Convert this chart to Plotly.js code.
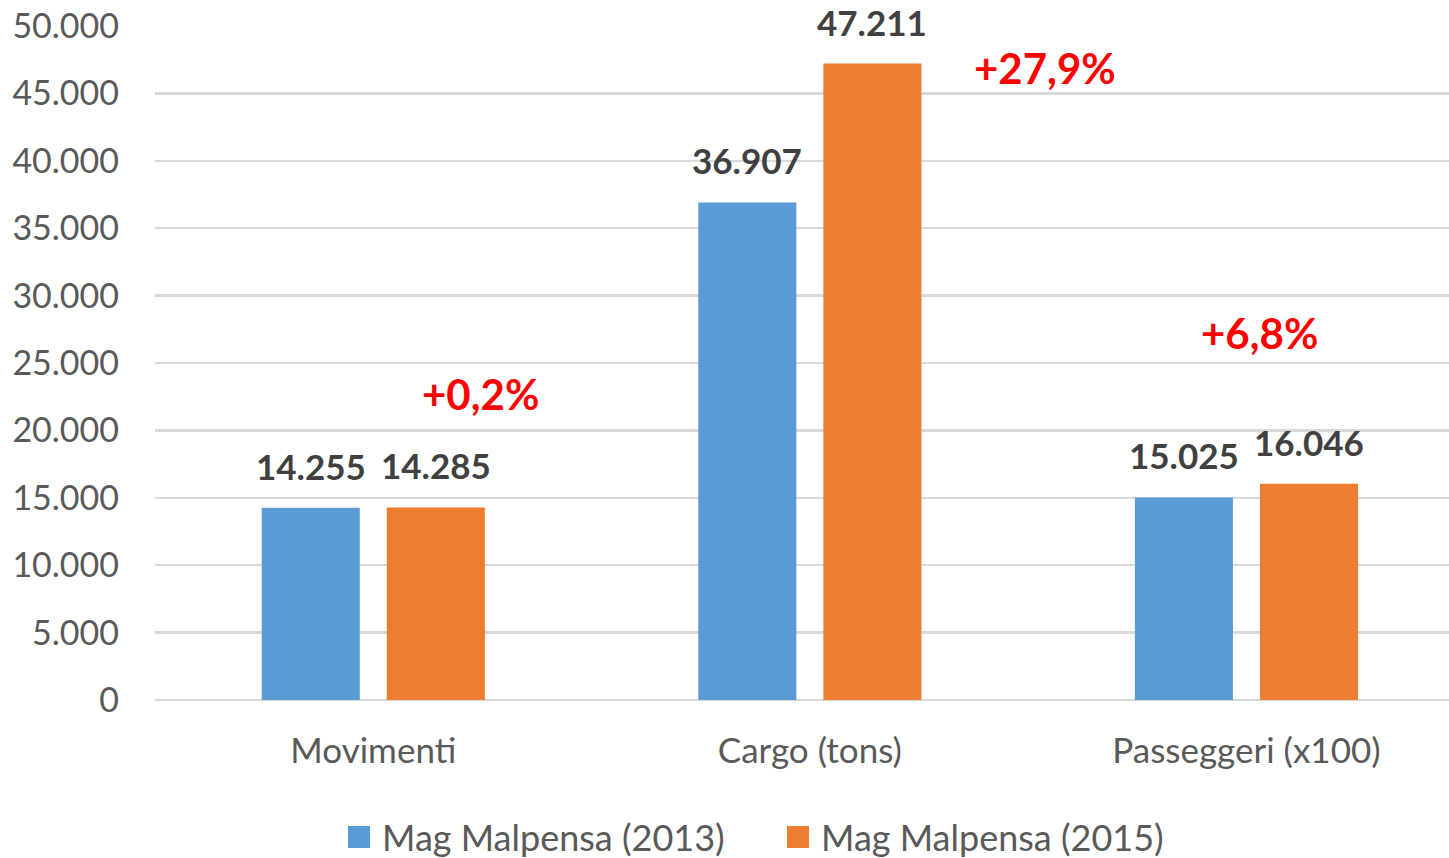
<!DOCTYPE html>
<html>
<head>
<meta charset="utf-8">
<script src="https://cdn.plot.ly/plotly-3.0.1.min.js"></script>
<style>html,body{margin:0;padding:0;background:#fff;}#chart{width:1449px;height:858px;}</style>
</head>
<body>
<div id="chart"></div>
<script>
const categories = ["Movimenti", "Cargo (tons)", "Passeggeri (x100)"];
const series2013 = [14255, 36907, 15025];
const series2015 = [14285, 47211, 16046];
const seriesNames = ["Mag Malpensa (2013)", "Mag Malpensa (2015)"];
const seriesColors = ["#5B9BD5", "#ED7D31"];
const changeLabels = ["+0,2%", "+27,9%", "+6,8%"];
const changeX = [0.245, 1.538, 2.03];
const changeY = [22700, 46880, 27230];
const yTicks = [0, 5000, 10000, 15000, 20000, 25000, 30000, 35000, 40000, 45000, 50000];

const FONT = "Lato, 'Open Sans', sans-serif";
const xIdx = categories.map((_, i) => i);
const fmt = v => v.toLocaleString("de-DE");

const traces = [series2013, series2015].map((vals, s) => ({
  type: "bar", name: seriesNames[s], x: xIdx, y: vals,
  marker: {color: seriesColors[s]}, showlegend: false, hoverinfo: "none"
}));

const annotations = [];
// value labels above bars
[series2013, series2015].forEach((vals, s) => {
  vals.forEach((v, i) => annotations.push({
    x: i, y: v, xref: "x", yref: "y", xshift: s === 0 ? -62.5 : 62.5, yshift: 42,
    yanchor: "middle", text: "<b>" + fmt(v) + "</b>", showarrow: false,
    font: {family: FONT, size: 35, color: "#404040"}
  }));
});
// change labels
changeLabels.forEach((t, i) => annotations.push({
  x: changeX[i], y: changeY[i], xref: "x", yref: "y", text: "<b>" + t + "</b>",
  showarrow: false, font: {family: FONT, size: 42, color: "#FF0000"}
}));
// manual legend
const legSq = [[0.14915, 0.16615], [0.48841, 0.50541]];
const legTx = [0.17388, 0.51314];
const shapes = [];
seriesNames.forEach((n, s) => {
  shapes.push({type: "rect", xref: "paper", yref: "paper", x0: legSq[s][0], x1: legSq[s][1],
    y0: -0.21958, y1: -0.18694, fillcolor: seriesColors[s], line: {width: 0}});
  annotations.push({x: legTx[s], y: -0.2033, xref: "paper", yref: "paper", xanchor: "left",
    yanchor: "middle", text: n, showarrow: false, font: {family: FONT, size: 36, color: "#595959"}});
});

const layout = {
  width: 1449, height: 858,
  margin: {l: 155, r: 0, t: 26, b: 158},
  paper_bgcolor: "#ffffff", plot_bgcolor: "#ffffff",
  separators: ",.",
  font: {family: FONT, color: "#595959"},
  barmode: "group", bargap: 0.427, bargroupgap: 0.216,
  showlegend: false,
  xaxis: {tickmode: "array", tickvals: xIdx, ticktext: categories,
          range: [-0.5, 2.464], showgrid: false, zeroline: false, showline: false,
          ticks: "", tickfont: {family: FONT, size: 35, color: "#595959"}, ticklabelstandoff: 27},
  yaxis: {range: [0, 50000], tickmode: "array", tickvals: yTicks, tickformat: ",",
          showgrid: true, gridcolor: "#D9D9D9", gridwidth: 2.5, zeroline: true,
          zerolinecolor: "#D9D9D9", zerolinewidth: 2.5, showline: false, ticks: "",
          tickfont: {family: FONT, size: 34, color: "#595959"}, ticklabelstandoff: 35},
  annotations: annotations,
  shapes: shapes
};

Plotly.newPlot("chart", traces, layout, {displayModeBar: false, staticPlot: true});
</script>
</body>
</html>
